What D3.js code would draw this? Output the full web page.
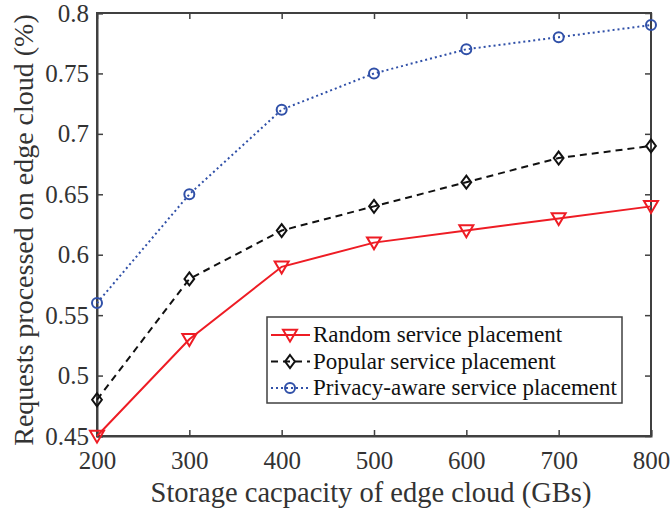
<!DOCTYPE html>
<html><head><meta charset="utf-8">
<script src="https://cdn.jsdelivr.net/npm/d3@7"></script>
<style>
body{margin:0;background:#fff}
svg{display:block}
svg text{font-family:'Liberation Serif','Times New Roman',Times,serif !important}
</style>
</head><body><svg id="c" width="670" height="512"></svg>
<script>
const xValues = [200, 300, 400, 500, 600, 700, 800];
const randomVals = [0.45, 0.53, 0.59, 0.61, 0.62, 0.63, 0.64];
const popularVals = [0.48, 0.58, 0.62, 0.64, 0.66, 0.68, 0.69];
const privacyVals = [0.56, 0.65, 0.72, 0.75, 0.77, 0.78, 0.79];
const xTicks = [200, 300, 400, 500, 600, 700, 800];
const yTicks = [0.45, 0.5, 0.55, 0.6, 0.65, 0.7, 0.75, 0.8];
const seriesNames = ["Random service placement", "Popular service placement", "Privacy-aware service placement"];

const svg = d3.select("#c");
const L = 97, R = 651, T = 13, B = 436;
const x = d3.scaleLinear().domain([200, 800]).range([L, R]);
const y = d3.scaleLinear().domain([0.45, 0.8]).range([B, T]);
const axisColor = "#404040";

const series = [
  {name: seriesNames[0], vals: randomVals, color: "#ee1c24", dash: null, marker: "tri"},
  {name: seriesNames[1], vals: popularVals, color: "#111111", dash: "7,5", marker: "dia"},
  {name: seriesNames[2], vals: privacyVals, color: "#3050a8", dash: "2,3", marker: "circ"}
];

function drawMarker(g, m, cx, cy, color) {
  if (m === "tri") {
    const s = 7;
    g.append("path").attr("d", `M${cx-s},${cy-s*0.75}L${cx+s},${cy-s*0.75}L${cx},${cy+s*0.95}Z`)
      .attr("fill", "none").attr("stroke", color).attr("stroke-width", 2);
  } else if (m === "dia") {
    const s = 6.5;
    g.append("path").attr("d", `M${cx},${cy-s}L${cx+s*0.75},${cy}L${cx},${cy+s}L${cx-s*0.75},${cy}Z`)
      .attr("fill", "none").attr("stroke", color).attr("stroke-width", 2);
  } else {
    g.append("circle").attr("cx", cx).attr("cy", cy).attr("r", 5)
      .attr("fill", "none").attr("stroke", color).attr("stroke-width", 2);
  }
}

// axes
const gx = svg.append("g").attr("transform", `translate(0,${B})`)
  .call(d3.axisBottom(x).tickValues(xTicks).tickSize(-6).tickPadding(15).tickFormat(d3.format("d")));
const gxt = svg.append("g").attr("transform", `translate(0,${T})`)
  .call(d3.axisTop(x).tickValues(xTicks).tickSize(-6).tickFormat(""));
const gy = svg.append("g").attr("transform", `translate(${L},0)`)
  .call(d3.axisLeft(y).tickValues(yTicks).tickSize(-6).tickPadding(8).tickFormat(d => String(+d.toFixed(2))));
const gyr = svg.append("g").attr("transform", `translate(${R},0)`)
  .call(d3.axisRight(y).tickValues(yTicks).tickSize(-6).tickFormat(""));
[gx, gxt, gy, gyr].forEach(g => {
  g.attr("font-family", null).attr("font-size", null);
  g.selectAll("path").attr("stroke", axisColor).attr("stroke-width", 2);
  g.selectAll("line").attr("stroke", axisColor).attr("stroke-width", 1.5);
  g.selectAll("text").attr("fill", "#333").attr("font-size", 25);
});
gxt.select(".domain").remove(); gyr.select(".domain").remove();
svg.append("rect").attr("x", L).attr("y", T).attr("width", R - L).attr("height", B - T)
  .attr("fill", "none").attr("stroke", axisColor).attr("stroke-width", 2);

// lines
series.forEach(s => {
  const line = d3.line().x((d, i) => x(xValues[i])).y(d => y(d));
  svg.append("path").datum(s.vals).attr("d", line).attr("fill", "none")
    .attr("stroke", s.color).attr("stroke-width", 2).attr("stroke-dasharray", s.dash);
  const g = svg.append("g");
  s.vals.forEach((v, i) => drawMarker(g, s.marker, x(xValues[i]), y(v), s.color));
});

// legend
const lg = svg.append("g");
lg.append("rect").attr("x", 267).attr("y", 317).attr("width", 355).attr("height", 86)
  .attr("fill", "#fff").attr("stroke", axisColor).attr("stroke-width", 1.5);
series.forEach((s, i) => {
  const cy = 335 + i * 26.5;
  lg.append("line").attr("x1", 271).attr("x2", 310).attr("y1", cy).attr("y2", cy)
    .attr("stroke", s.color).attr("stroke-width", 2).attr("stroke-dasharray", s.dash);
  drawMarker(lg, s.marker, 290, cy, s.color);
  lg.append("text").attr("x", 313).attr("y", cy + 7).text(s.name)
    .attr("font-size", 23).attr("fill", "#111");
});

// axis titles
svg.append("text").attr("x", 371).attr("y", 502).attr("text-anchor", "middle")
  .attr("font-size", 28.5).attr("fill", "#333").text("Storage cacpacity of edge cloud (GBs)");
svg.append("text").attr("transform", `translate(33,230) rotate(-90)`).attr("text-anchor", "middle")
  .attr("font-size", 28).attr("fill", "#333").text("Requests processed on edge cloud (%)");
</script></body></html>
